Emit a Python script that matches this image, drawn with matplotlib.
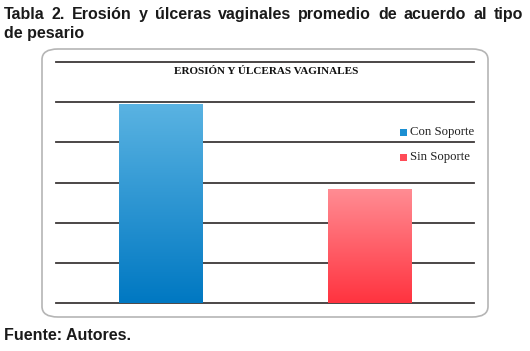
import matplotlib
matplotlib.use("Agg")
import matplotlib.pyplot as plt
import numpy as np
from matplotlib.patches import FancyBboxPatch, Rectangle
from matplotlib.colors import LinearSegmentedColormap

categories = ["Con Soporte", "Sin Soporte"]
values = [4.95, 2.85]
yticks = [0, 1, 2, 3, 4, 5, 6]
header_line1 = "Tabla 2. Erosión y úlceras vaginales promedio de acuerdo al tipo"
header_line2 = "de pesario"
chart_title = "EROSIÓN Y ÚLCERAS VAGINALES"
footer = "Fuente: Autores."

W, H = 530, 351
fig = plt.figure(figsize=(W / 100, H / 100), dpi=100)

# rounded chart frame
box = FancyBboxPatch((42 / W, 1 - 317 / H), (488 - 42) / W, (317 - 49) / H,
                     boxstyle="round,pad=0,rounding_size=0.03",
                     transform=fig.transFigure, facecolor="white",
                     edgecolor="#b5b5b5", linewidth=1.2, zorder=-10)
fig.patches.append(box)

ax = fig.add_axes([56 / W, 1 - 303 / H, (474 - 56) / W, (303 - 62) / H])
ax.set_zorder(5)
ax.set_xlim(-0.5, 1.5)
ax.set_ylim(0, 6)
ax.set_yticks(yticks)
ax.set_xticks([])
ax.tick_params(left=False, labelleft=False)
for s in ax.spines.values():
    s.set_visible(False)
ax.patch.set_alpha(0)
for t in yticks:
    ax.axhline(t, color="#3d3838", linewidth=1.3, zorder=1, clip_on=False)

grads = [("#5ab3e2", "#0078c2"), ("#ff8d94", "#ff333f")]
legend_cols = ["#1b8fd2", "#ff4b57"]
bars = ax.bar(range(len(categories)), values, width=0.4, color="none", zorder=2)
for b, (top, bot) in zip(bars, grads):
    cmap = LinearSegmentedColormap.from_list("g", [bot, top])
    x0, y0 = b.get_x(), b.get_y()
    w, h = b.get_width(), b.get_height()
    grad = np.linspace(0, 1, 256).reshape(-1, 1)
    im = ax.imshow(grad, cmap=cmap, origin="lower", aspect="auto",
                   extent=[x0, x0 + w, y0, y0 + h], zorder=2)
    im.set_clip_path(b)
ax.set_xlim(-0.5, 1.5)
ax.set_ylim(0, 6)

# chart title
fig.text(266 / W, 1 - 72 / H, chart_title, ha="center", va="center",
         fontsize=8.0, fontweight="bold", family="Liberation Serif", color="#111111",
         zorder=6)

# legend
for i, (lab, c) in enumerate(zip(categories, legend_cols)):
    yy = 1 - (132 + 25 * i) / H
    fig.patches.append(Rectangle((400 / W, yy - 3.5 / H), 7 / W, 7 / H,
                                 transform=fig.transFigure, facecolor=c,
                                 edgecolor="none", zorder=6))
    fig.text(410 / W, yy, lab, ha="left", va="center", fontsize=9.2,
             family="Liberation Serif", color="#222222", zorder=6)

# header, justified first line
renderer = fig.canvas.get_renderer()
words = header_line1.split(" ")
x_left, x_right = 4, 523
hdr_kw = dict(fontsize=11.5, fontweight="bold", family="Liberation Sans",
              color="#1a1a1a", va="baseline", ha="left")
tmp = [fig.text(0, 0, w_, **hdr_kw) for w_ in words]
widths = [t.get_window_extent(renderer).width for t in tmp]
for t in tmp:
    t.remove()
gap = (x_right - x_left - sum(widths)) / (len(words) - 1)
x = x_left
for w_, wd in zip(words, widths):
    fig.text(x / W, 1 - 19 / H, w_, **hdr_kw)
    x += wd + gap
fig.text(x_left / W, 1 - 38 / H, header_line2, **hdr_kw)

fig.text(4 / W, 1 - 340 / H, footer, **hdr_kw)

fig.savefig("out.png", dpi=100)
